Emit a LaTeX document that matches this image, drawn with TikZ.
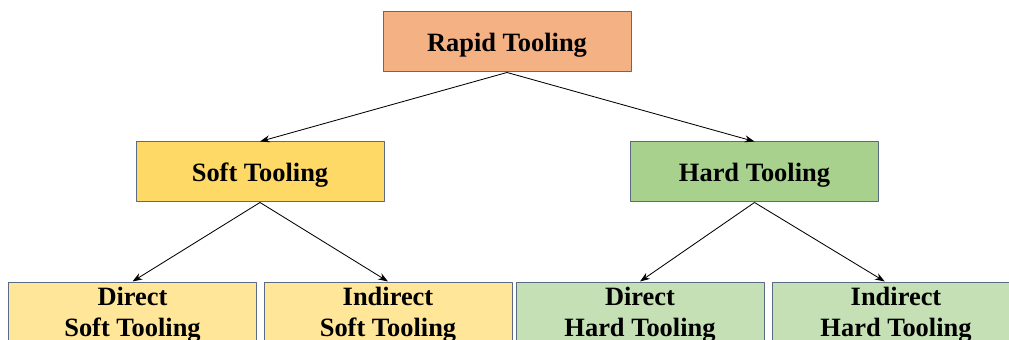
\documentclass[tikz,border=0pt]{standalone}
\usepackage{fontspec}
\setmainfont{Liberation Serif}
\usetikzlibrary{arrows.meta}
\definecolor{rootfill}{HTML}{F4B183}
\definecolor{softfill}{HTML}{FFD966}
\definecolor{hardfill}{HTML}{A9D18E}
\definecolor{softlight}{HTML}{FFE699}
\definecolor{hardlight}{HTML}{C5E0B4}
\definecolor{boxline}{HTML}{5B6A85}
\tikzset{
  toolbox/.style={draw=boxline, line width=0.7pt, minimum width=6.2cm, minimum height=1.5cm,
    inner sep=0pt, text depth=0pt, align=center, font=\fontsize{18.8pt}{21.8pt}\selectfont\bfseries},
  link/.style={-{Stealth[length=7pt, width=5pt]}, line width=0.6pt}
}
\begin{document}
\begin{tikzpicture}[line join=round]
	\useasboundingbox (0,0) rectangle (25.225,8.5);
	\node[toolbox, fill=rootfill] (rt) at (12.675,7.45) {Rapid Tooling};
	\node[toolbox, fill=softfill] (st) at (6.5,4.2) {Soft Tooling};
	\node[toolbox, fill=hardfill] (ht) at (18.8625,4.2) {Hard Tooling};
	\node[toolbox, fill=softlight] (dst) at (3.3125,0.7) {Direct\\Soft Tooling};
	\node[toolbox, fill=softlight] (ist) at (9.7,0.7) {Indirect\\Soft Tooling};
	\node[toolbox, fill=hardlight] (dht) at (16.0,0.7) {Direct\\Hard Tooling};
	\node[toolbox, fill=hardlight] (iht) at (22.4,0.7) {Indirect\\Hard Tooling};
	\draw[link] (rt.south) -- (st.north);
	\draw[link] (rt.south) -- (ht.north);
	\draw[link] (st.south) -- (dst.north);
	\draw[link] (st.south) -- (ist.north);
	\draw[link] (ht.south) -- (dht.north);
	\draw[link] (ht.south) -- ([xshift=-8pt]iht.north);
\end{tikzpicture}
\end{document}
